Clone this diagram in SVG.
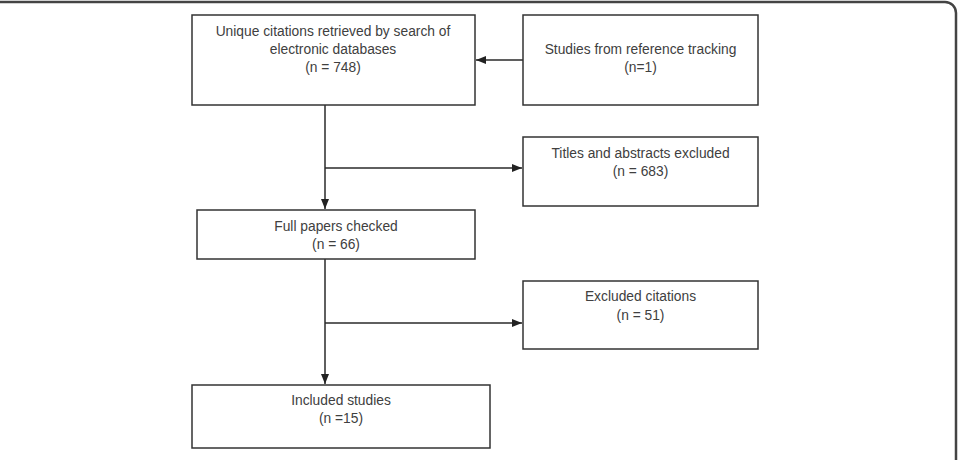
<svg xmlns="http://www.w3.org/2000/svg" width="961" height="460" viewBox="0 0 961 460">
<style>
.box{fill:#fff;stroke:#333;stroke-width:1.5}
.t{font-family:"Liberation Sans",Arial,sans-serif;font-size:13.8px;fill:#404040;text-anchor:middle}
.ln{fill:none;stroke:#2a2a2a;stroke-width:1.5}
</style>
<defs>
<marker id="ah" viewBox="0 0 10 8" refX="10" refY="4" markerWidth="10" markerHeight="8" markerUnits="userSpaceOnUse" orient="auto">
<path d="M0,0 L10,4 L0,8 Z" fill="#222"/>
</marker>
</defs>
<rect width="961" height="460" fill="#fff"/>
<path d="M0,2 H945 A11,11 0 0 1 956,13 V460" fill="none" stroke="#444" stroke-width="2.5"/>
<g id="connectors">
<path class="ln" d="M523,60 H476" marker-end="url(#ah)"/>
<path class="ln" d="M325,105 V209" marker-end="url(#ah)"/>
<path class="ln" d="M325,168 H522" marker-end="url(#ah)"/>
<path class="ln" d="M325,259 V384" marker-end="url(#ah)"/>
<path class="ln" d="M325,323 H522" marker-end="url(#ah)"/>
</g>
<g id="node-search">
<rect class="box" x="192" y="15" width="283" height="90"/>
<text class="t" x="333" y="36">Unique citations retrieved by search of</text>
<text class="t" x="333" y="54">electronic databases</text>
<text class="t" x="333" y="72">(n = 748)</text>
</g>
<g id="node-reference">
<rect class="box" x="523" y="15" width="235" height="90"/>
<text class="t" x="640.5" y="54">Studies from reference tracking</text>
<text class="t" x="640.5" y="72">(n=1)</text>
</g>
<g id="node-titles">
<rect class="box" x="523" y="137" width="235" height="69"/>
<text class="t" x="640.5" y="158">Titles and abstracts excluded</text>
<text class="t" x="640.5" y="176">(n = 683)</text>
</g>
<g id="node-full">
<rect class="box" x="197" y="210" width="278" height="49"/>
<text class="t" x="336" y="231">Full papers checked</text>
<text class="t" x="336" y="249">(n = 66)</text>
</g>
<g id="node-excluded">
<rect class="box" x="523" y="281" width="235" height="68"/>
<text class="t" x="640.5" y="301">Excluded citations</text>
<text class="t" x="640.5" y="320">(n = 51)</text>
</g>
<g id="node-included">
<rect class="box" x="192" y="385" width="298" height="63"/>
<text class="t" x="341" y="405">Included studies</text>
<text class="t" x="341" y="423">(n =15)</text>
</g>
</svg>
